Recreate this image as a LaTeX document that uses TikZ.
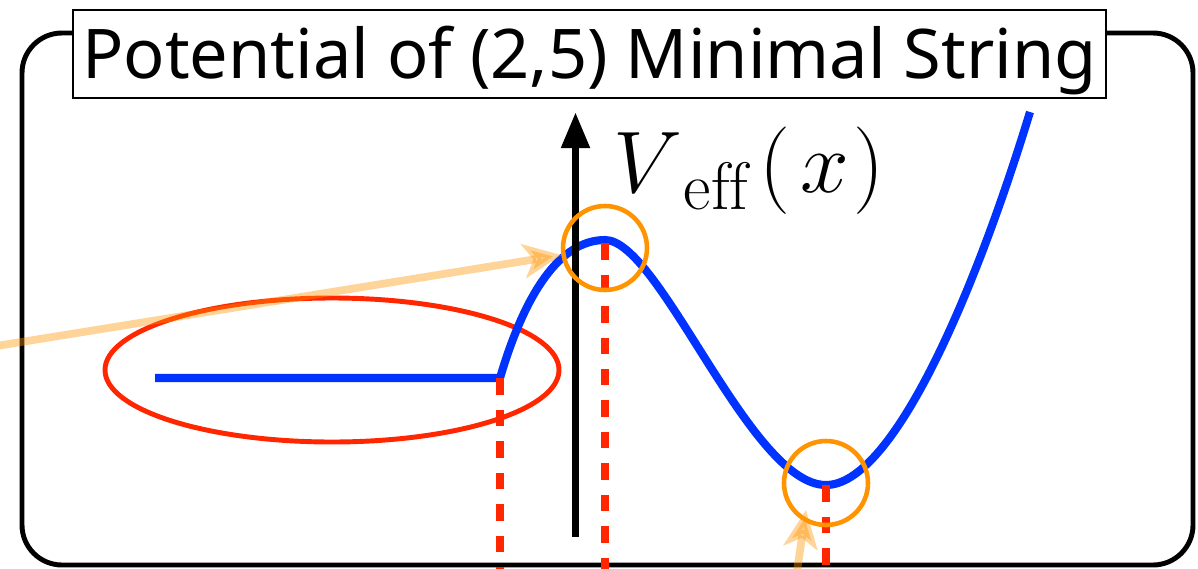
\documentclass[tikz,border=0pt]{standalone}
\usepackage{fontspec}
\newfontfamily\titlefont{Noto Sans}
\usetikzlibrary{arrows.meta,shapes.geometric}

\definecolor{curveblue}{RGB}{0,51,255}
\definecolor{markred}{RGB}{255,38,0}
\definecolor{ringorange}{RGB}{255,147,0}

\begin{document}
\begin{tikzpicture}[
	curve/.style={draw=curveblue, line width=2.3pt},
	dropline/.style={draw=markred, line width=2.3pt, dash pattern=on 0.165cm off 0.15cm},
	ring/.style={circle, draw=ringorange, line width=1.3pt, minimum size=0.84cm, inner sep=0pt},
	hint/.style={draw=ringorange, opacity=0.4, line width=2.2pt, -{Stealth[length=0.38cm,width=0.34cm,inset=0.1cm]}},
	titlebox/.style={draw, fill=white, line width=0.8pt, inner sep=0pt, minimum width=10.33cm, minimum height=0.88cm,
		text height=0.62cm, text depth=0.14cm, font=\titlefont\fontsize{19.5}{23}\selectfont}
]
\useasboundingbox (0,0) rectangle (11.98,5.68);

\draw[line width=1.4pt, rounded corners=0.4cm] (0.22,0.03) rectangle (11.93,5.35);

\node[ellipse, draw=markred, line width=1.4pt, minimum width=4.54cm, minimum height=1.44cm, inner sep=0pt] (flat) at (3.32,1.98) {};

\coordinate (base) at (0,-0.1);
\coordinate (flatstart) at (1.55,1.90);
\coordinate (kink) at (5.00,1.90);
\coordinate (peaktop) at (6.05,3.25);
\coordinate (valley) at (8.26,0.83);

\draw[curve] (flatstart) -- (kink) .. controls (5.25,2.75) and (5.6,3.28) .. (6.05,3.28)
	.. controls (6.6,3.28) and (7.5,0.83) .. (8.26,0.83)
	.. controls (8.9,0.83) and (9.7,2.6) .. (10.30,4.56);

\coordinate (axisfoot) at (5.755,0.31);
\coordinate (axistop) at (5.755,4.56);
\draw[line width=2.2pt, -{Triangle[width=0.27cm,length=0.36cm]}] (axisfoot) -- (axistop);
\node[anchor=base west, inner sep=0pt, font=\fontsize{27.3}{32}\selectfont] (veff) at (6.13,3.76) {$V_{\mkern5mu\mathrm{eff}}\mkern2mu(\mkern2mu x\mkern1mu)$};

\foreach \p in {kink, peaktop, valley}
	\draw[dropline] (\p) -- (\p |- base);

\node[ring] (peakring) at (6.05,3.20) {};
\node[ring] (minring) at (8.26,0.85) {};

\coordinate (peakfrom) at (-0.1,2.21);
\draw[hint] (peakfrom) -- (peakring);
\coordinate (minfrom) at (7.96,-0.1);
\coordinate (mintip) at (8.06,0.58);
\draw[hint] (minfrom) -- (mintip);

\node[titlebox] (title) at (5.895,5.14) {Potential of (2,5) Minimal String};

\end{tikzpicture}
\end{document}
